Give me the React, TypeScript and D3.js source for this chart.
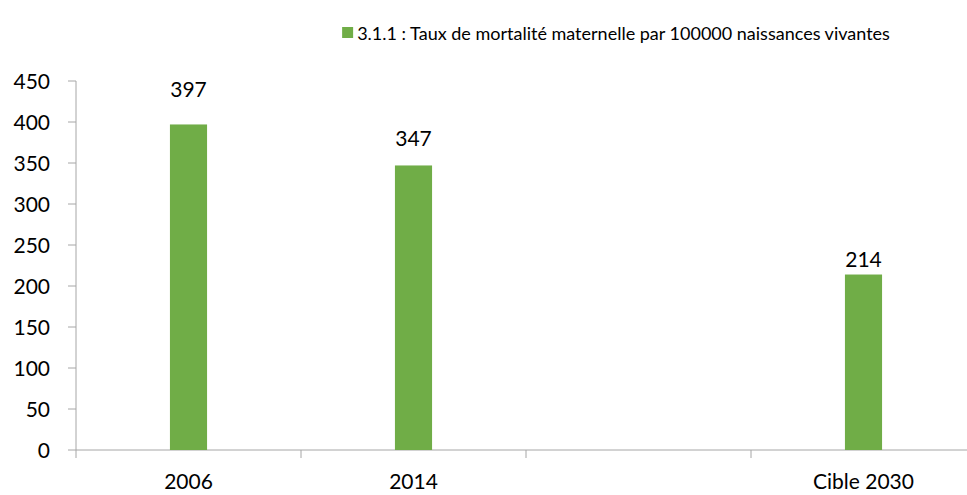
import React, { useEffect, useRef } from 'react';
import * as d3 from 'd3';

// data
const categories = ['2006', '2014', '', 'Cible 2030'];
const values: (number | null)[] = [397, 347, null, 214];
const seriesName = '3.1.1 : Taux de mortalité maternelle par 100000 naissances vivantes';
const yTicks = [0, 50, 100, 150, 200, 250, 300, 350, 400, 450];
// the data labels were placed by hand in the original, distance above bar top
const labelGaps = [27, 19, 0, 8];

const WIDTH = 967;
const HEIGHT = 495;
const FONT = 'Lato, "Open Sans", sans-serif';
const GREEN = '#70ad47';
const AXIS = '#a6a6a6';

const App: React.FC = () => {
  const svgRef = useRef<SVGSVGElement>(null);

  useEffect(() => {
    if (!svgRef.current) return;
    const svg = d3.select(svgRef.current);
    svg.selectAll('*').remove();

    const left = 76;
    const top = 81;
    const bottom = 450;
    const plotWidth = 900;

    const x = d3.scaleBand<string>()
      .domain(categories.map((c, i) => `${i}`))
      .range([left, left + plotWidth])
      .padding(0);
    const y = d3.scaleLinear().domain([0, 450]).range([bottom, top]);

    const barW = x.bandwidth() * 0.165;

    // legend, centred where the original sits
    const legend = svg.append('g');
    const legendText = legend.append('text')
      .attr('x', 0)
      .attr('y', 40)
      .attr('font-family', FONT)
      .attr('font-size', '18px')
      .attr('fill', '#000')
      .text(seriesName);
    const tw = (legendText.node() as SVGTextElement).getComputedTextLength();
    const lx = 616 - (tw + 15) / 2;
    legend.append('rect')
      .attr('x', lx)
      .attr('y', 27)
      .attr('width', 11)
      .attr('height', 11)
      .attr('fill', GREEN);
    legendText.attr('x', lx + 15);

    // y axis
    const yAxis = svg.append('g');
    yAxis.append('line')
      .attr('x1', left).attr('x2', left)
      .attr('y1', top).attr('y2', bottom + 8)
      .attr('stroke', AXIS);
    yTicks.forEach(t => {
      yAxis.append('line')
        .attr('x1', left - 8).attr('x2', left)
        .attr('y1', y(t)).attr('y2', y(t))
        .attr('stroke', AXIS);
      yAxis.append('text')
        .attr('x', 50)
        .attr('y', y(t))
        .attr('dy', '0.36em')
        .attr('text-anchor', 'end')
        .attr('font-family', FONT)
        .attr('font-size', '21px')
        .attr('fill', '#000')
        .text(t);
    });

    // x axis
    const xAxis = svg.append('g');
    xAxis.append('line')
      .attr('x1', left).attr('x2', left + plotWidth)
      .attr('y1', bottom).attr('y2', bottom)
      .attr('stroke', AXIS);
    categories.forEach((c, i) => {
      const x0 = x(`${i}`)! + x.bandwidth();
      xAxis.append('line')
        .attr('x1', x0).attr('x2', x0)
        .attr('y1', bottom).attr('y2', bottom + 8)
        .attr('stroke', AXIS);
      xAxis.append('text')
        .attr('x', x(`${i}`)! + x.bandwidth() / 2)
        .attr('y', 489)
        .attr('text-anchor', 'middle')
        .attr('font-family', FONT)
        .attr('font-size', '21px')
        .attr('fill', '#000')
        .text(c);
    });

    // bars
    const bars = svg.append('g');
    values.forEach((v, i) => {
      if (v == null) return;
      const cx = x(`${i}`)! + x.bandwidth() / 2;
      bars.append('rect')
        .attr('x', cx - barW / 2)
        .attr('y', y(v))
        .attr('width', barW)
        .attr('height', bottom - y(v))
        .attr('fill', GREEN);
      bars.append('text')
        .attr('x', cx)
        .attr('y', y(v) - labelGaps[i])
        .attr('text-anchor', 'middle')
        .attr('font-family', FONT)
        .attr('font-size', '21px')
        .attr('fill', '#000')
        .text(v);
    });
  }, []);

  return (
    <svg
      ref={svgRef}
      width={WIDTH}
      height={HEIGHT}
      style={{ position: 'absolute', left: 0, top: 0, background: '#fff', display: 'block' }}
    />
  );
};

export default App;
